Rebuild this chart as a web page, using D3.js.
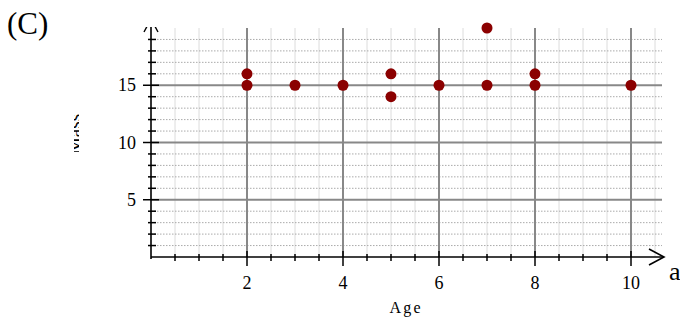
<!DOCTYPE html>
<html>
<head>
<meta charset="utf-8">
<script src="https://cdn.jsdelivr.net/npm/d3@7"></script>
<style>
  html, body { margin: 0; padding: 0; background: #fff; }
  svg { display: block; font-family: "Liberation Serif", "Times New Roman", serif; }
</style>
</head>
<body>
<svg id="chart" width="680" height="324"></svg>
<script>
// ---- data ----
const ages = [2, 2, 3, 4, 5, 5, 6, 7, 7, 8, 8, 10];
const masses = [15, 16, 15, 15, 16, 14, 15, 15, 20, 16, 15, 15];
const xTickLabels = [2, 4, 6, 8, 10];
const yTickLabels = [5, 10, 15];
const panelLabel = "(C)";
const xTitle = "Age";
const yTitle = "Mass";
const xAxisLetter = "a";

const svg = d3.select("#chart");
const x = d3.scaleLinear().domain([0, 10]).range([151, 631]);
const y = d3.scaleLinear().domain([0, 20]).range([257, 28]);
const xEnd = x.invert(662);
const yTop = 20;

const g = svg.append("g");

// minor vertical grid (every 0.5)
const xMinor = d3.range(0.5, xEnd, 0.5).filter(v => Math.abs(v % 2) > 1e-6);
g.selectAll(".vminor").data(xMinor).enter().append("line")
  .attr("x1", d => x(d)).attr("x2", d => x(d))
  .attr("y1", y(0)).attr("y2", y(yTop))
  .attr("stroke", "#dcdcdc").attr("stroke-width", 1);

// minor horizontal grid (every 1, dotted)
const yMinor = d3.range(1, yTop, 1).filter(v => v % 5 !== 0);
g.selectAll(".hminor").data(yMinor).enter().append("line")
  .attr("x1", x(0)).attr("x2", x(xEnd))
  .attr("y1", d => y(d)).attr("y2", d => y(d))
  .attr("stroke", "#aaa").attr("stroke-width", 1)
  .attr("stroke-dasharray", "1.5,1.5");

// major grid
g.selectAll(".vmajor").data(xTickLabels).enter().append("line")
  .attr("x1", d => x(d)).attr("x2", d => x(d))
  .attr("y1", y(0)).attr("y2", y(yTop))
  .attr("stroke", "#888").attr("stroke-width", 2);
g.selectAll(".hmajor").data(yTickLabels).enter().append("line")
  .attr("x1", x(0)).attr("x2", x(xEnd))
  .attr("y1", d => y(d)).attr("y2", d => y(d))
  .attr("stroke", "#888").attr("stroke-width", 2);

// axes
g.append("line").attr("x1", x(0)).attr("x2", x(xEnd) + 2)
  .attr("y1", y(0)).attr("y2", y(0)).attr("stroke", "#000").attr("stroke-width", 1.6);
g.append("line").attr("x1", x(0)).attr("x2", x(0))
  .attr("y1", y(0) + 2).attr("y2", y(yTop) - 1).attr("stroke", "#000").attr("stroke-width", 1.6);

// x arrowhead
const ax = x(xEnd) + 2, ay = y(0);
g.append("path").attr("d", `M${ax - 15},${ay - 8}L${ax},${ay}L${ax - 15},${ay + 8}`)
  .attr("fill", "none").attr("stroke", "#000").attr("stroke-width", 1.6);
// y arrowhead (clipped at the top of the plot)
svg.append("clipPath").attr("id", "topclip").append("rect")
  .attr("x", 0).attr("y", y(yTop) - 1).attr("width", 680).attr("height", 324);
const tx = x(0), ty = y(yTop) - 9;
g.append("g").attr("clip-path", "url(#topclip)")
  .append("path").attr("d", `M${tx - 7},${ty + 13}L${tx},${ty}L${tx + 7},${ty + 13}`)
  .attr("fill", "none").attr("stroke", "#000").attr("stroke-width", 1.4);

// x ticks
const xMinorTicks = d3.range(0.5, 10.01, 0.5).filter(v => Math.abs(v % 2) > 1e-6);
g.selectAll(".xmt").data(xMinorTicks).enter().append("line")
  .attr("x1", d => x(d)).attr("x2", d => x(d))
  .attr("y1", y(0) - 3).attr("y2", y(0) + 4)
  .attr("stroke", "#000").attr("stroke-width", 1.5);
g.selectAll(".xMt").data(xTickLabels).enter().append("line")
  .attr("x1", d => x(d)).attr("x2", d => x(d))
  .attr("y1", y(0) - 6).attr("y2", y(0) + 9)
  .attr("stroke", "#000").attr("stroke-width", 1.5);
g.selectAll(".xlab").data(xTickLabels).enter().append("text")
  .attr("x", d => x(d)).attr("y", 289)
  .attr("text-anchor", "middle").attr("font-size", 18).text(d => d);

// y ticks
g.selectAll(".ymt").data(yMinor).enter().append("line")
  .attr("x1", x(0) - 3).attr("x2", x(0) + 5)
  .attr("y1", d => y(d)).attr("y2", d => y(d))
  .attr("stroke", "#000").attr("stroke-width", 1.5);
g.selectAll(".yMt").data(yTickLabels).enter().append("line")
  .attr("x1", x(0) - 8).attr("x2", x(0) + 8)
  .attr("y1", d => y(d)).attr("y2", d => y(d))
  .attr("stroke", "#000").attr("stroke-width", 1.5);
g.selectAll(".ylab").data(yTickLabels).enter().append("text")
  .attr("x", 136).attr("y", d => y(d) + 6)
  .attr("text-anchor", "end").attr("font-size", 18).text(d => d);

// points
g.selectAll(".pt").data(ages.map((a, i) => [a, masses[i]])).enter().append("circle")
  .attr("cx", d => x(d[0])).attr("cy", d => y(d[1])).attr("r", 5.5)
  .attr("fill", "#8b0000");

// labels
svg.append("text").attr("x", 7).attr("y", 34).attr("font-size", 31).text(panelLabel);
svg.append("text").attr("x", 405).attr("y", 313).attr("font-size", 16)
  .attr("text-anchor", "middle").attr("textLength", 31).attr("lengthAdjust", "spacing").text(xTitle);
svg.append("text").attr("x", 669).attr("y", 280).attr("font-size", 26).text(xAxisLetter);

// y title: partially visible sliver
svg.append("clipPath").attr("id", "yclip").append("rect")
  .attr("x", 74).attr("y", 100).attr("width", 5).attr("height", 70);
svg.append("g").attr("clip-path", "url(#yclip)")
  .append("text")
  .attr("transform", "translate(81,134) rotate(-90)")
  .attr("text-anchor", "middle").attr("font-size", 19)
  .text(yTitle);
</script>
</body>
</html>
